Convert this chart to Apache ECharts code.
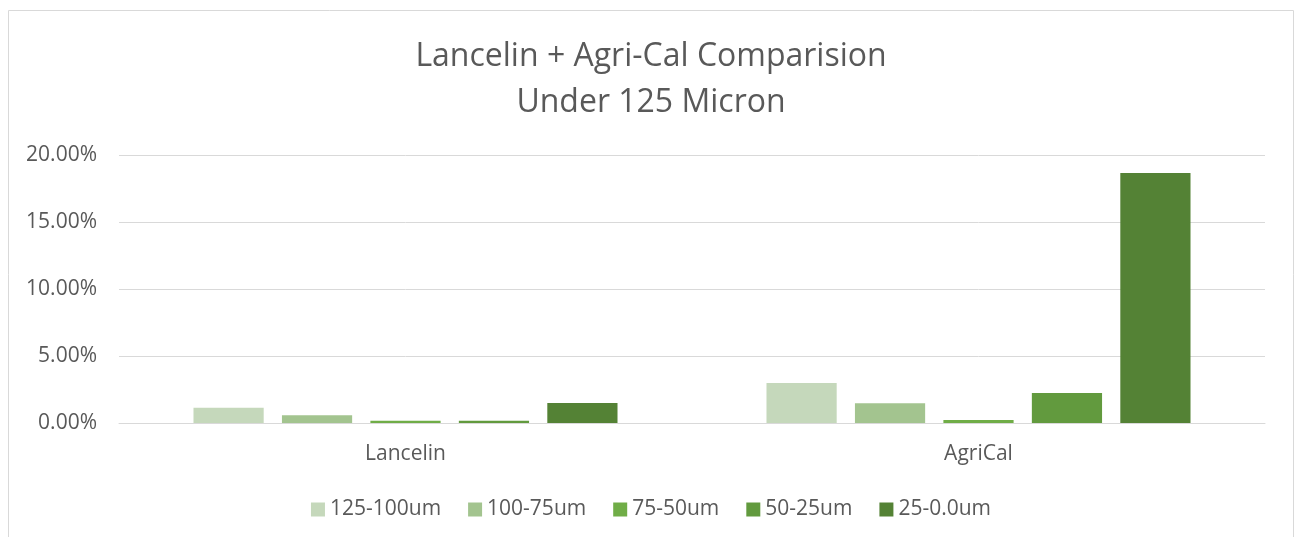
<!DOCTYPE html>
<html><head><meta charset="utf-8">
<script src="https://cdn.jsdelivr.net/npm/echarts@6/dist/echarts.min.js"></script>
<style>html,body{margin:0;padding:0;background:#fff}#c{width:1302px;height:537px}</style>
</head><body><div id="c"></div>
<script>
var categories = ['Lancelin', 'AgriCal'];
var seriesNames = ['125-100um', '100-75um', '75-50um', '50-25um', '25-0.0um'];
var s125_100 = [1.14, 2.99];
var s100_75 = [0.57, 1.47];
var s75_50 = [0.17, 0.22];
var s50_25 = [0.17, 2.24];
var s25_0 = [1.49, 18.66];
var seriesValues = [s125_100, s100_75, s75_50, s50_25, s25_0];
var colors = ['#c5d8bb', '#a3c48f', '#70ad47', '#629a3e', '#548235'];
var font = '"Open Sans", sans-serif';

var chart = echarts.init(document.getElementById('c'));
chart.setOption({
  animation: false,
  textStyle: {fontFamily: font},
  title: {
    text: 'Lancelin + Agri-Cal Comparision\nUnder 125 Micron',
    left: 'center', top: 29,
    textStyle: {fontFamily: font, fontSize: 32, fontWeight: 'normal', color: '#595959', lineHeight: 46}
  },
  graphic: [{type: 'rect', shape: {x: 8.5, y: 10.5, width: 1285, height: 540}, style: {fill: 'none', stroke: '#d9d9d9', lineWidth: 1}, silent: true}],
  legend: {
    bottom: 12, left: 'center', itemWidth: 14, itemHeight: 14, itemGap: 27, icon: 'rect',
    textStyle: {fontFamily: font, fontSize: 21, color: '#595959'},
    data: seriesNames
  },
  grid: {left: 119, right: 37, top: 155, bottom: 114},
  xAxis: {
    type: 'category', data: categories,
    axisLine: {lineStyle: {color: '#d9d9d9', width: 1}},
    axisTick: {show: false},
    axisLabel: {fontFamily: font, fontSize: 21, color: '#595959', margin: 21}
  },
  yAxis: {
    type: 'value', min: 0, max: 20, interval: 5,
    axisLine: {show: false}, axisTick: {show: false},
    splitLine: {lineStyle: {color: '#d9d9d9', width: 1}},
    axisLabel: {fontFamily: font, fontSize: 21, color: '#595959', margin: 22,
      formatter: function (v) { return v.toFixed(2) + '%'; }}
  },
  series: seriesNames.map(function (n, i) {
    return {
      name: n, type: 'bar', data: seriesValues[i],
      barGap: '26%', barCategoryGap: '26%',
      itemStyle: {color: colors[i]}
    };
  })
});
</script></body></html>
